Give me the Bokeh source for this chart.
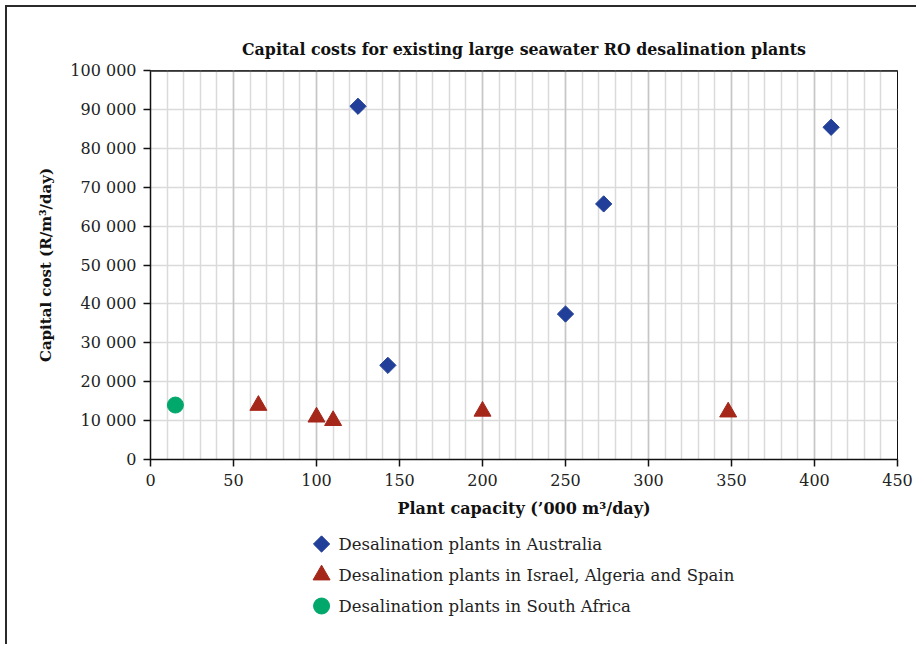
from bokeh.plotting import figure
from bokeh.layouts import column
from bokeh.models import Range1d, FactorRange, FixedTicker, Grid, Span
from bokeh.core.properties import value
from bokeh.embed import file_html
from bokeh.resources import INLINE

TITLE = "Capital costs for existing large seawater RO desalination plants"
X_LABEL = "Plant capacity (\u2019000 m\u00b3/day)"
Y_LABEL = "Capital cost (R/m\u00b3/day)"

aus_capacity = [125, 143, 250, 273, 410]
aus_cost = [90800, 24200, 37400, 65700, 85400]
ias_capacity = [65, 100, 110, 200, 348]
ias_cost = [13900, 10900, 10000, 12400, 12200]
sa_capacity = [15]
sa_cost = [14000]

series_names = [
    "Desalination plants in Australia",
    "Desalination plants in Israel, Algeria and Spain",
    "Desalination plants in South Africa",
]
series_colors = ["#213f99", "#a5271a", "#00a86b"]
series_markers = ["square", "triangle", "circle"]
series_angles = [0.785398, 0.0, 0.0]
series_sizes = [11.5, 17, 16]

x_ticks = [0, 50, 100, 150, 200, 250, 300, 350, 400, 450]
x_minor_step = 10
y_ticks = [0, 10000, 20000, 30000, 40000, 50000, 60000, 70000, 80000, 90000, 100000]
y_tick_labels = ["0", "10 000", "20 000", "30 000", "40 000", "50 000",
                 "60 000", "70 000", "80 000", "90 000", "100 000"]

FONT = "DejaVu Serif"
OFF = 7          # outer frame offset (margin + border)
W = 916 - OFF

p = figure(width=W, height=528 - OFF, output_backend="svg", toolbar_location=None,
           x_range=Range1d(x_ticks[0], x_ticks[-1]), y_range=Range1d(y_ticks[0], y_ticks[-1]),
           min_border_left=150 - OFF, min_border_right=19, min_border_top=70 - OFF,
           min_border_bottom=69)

p.title.text = TITLE
p.title.text_font = FONT
p.title.text_font_size = "15.8px"
p.title.text_font_style = "bold"
p.title.align = "center"
p.title.standoff = 23
p.title.text_color = "#111111"

p.outline_line_color = "#111111"
p.outline_line_width = 1

# grids
p.xgrid.ticker = FixedTicker(ticks=list(range(x_ticks[0], x_ticks[-1] + 1, x_minor_step)))
p.xgrid.grid_line_color = "#dadada"
p.xgrid.grid_line_width = 1.5
major_grid = Grid(dimension=0, ticker=FixedTicker(ticks=x_ticks),
                  grid_line_color="#c6c6c6", grid_line_width=1.5)
p.add_layout(major_grid)
p.ygrid.ticker = FixedTicker(ticks=y_ticks)
p.ygrid.grid_line_color = "#dadada"
p.ygrid.grid_line_width = 1.5

top_line = Span(location=y_ticks[-1], dimension="width", line_color="#555555", line_width=3)
p.add_layout(top_line)

# axes
for ax in (p.xaxis[0], p.yaxis[0]):
    ax.axis_line_color = "#111111"
    ax.axis_line_width = 1.5
    ax.major_tick_line_color = "#111111"
    ax.major_tick_line_width = 1.5
    ax.major_tick_in = 0
    ax.major_tick_out = 7
    ax.minor_tick_line_color = None
    ax.major_label_text_font = FONT
    ax.major_label_text_font_size = "16px"
    ax.major_label_text_color = "#222222"
    ax.axis_label_text_font = FONT
    ax.axis_label_text_font_style = "bold"
    ax.axis_label_text_color = "#111111"

p.xaxis.ticker = FixedTicker(ticks=x_ticks)
p.xaxis.axis_label = X_LABEL
p.xaxis.axis_label_text_font_size = "16px"
p.xaxis.major_label_standoff = 7
p.xaxis.axis_label_standoff = 10
p.yaxis.ticker = FixedTicker(ticks=y_ticks)
p.yaxis.major_label_overrides = {t: l for t, l in zip(y_ticks, y_tick_labels)}
p.yaxis.axis_label = Y_LABEL
p.yaxis.axis_label_text_font_size = "15px"
p.yaxis.major_label_standoff = 7
p.yaxis.axis_label_standoff = 12

data_x = [aus_capacity, ias_capacity, sa_capacity]
data_y = [aus_cost, ias_cost, sa_cost]
for xs, ys, m, a, s, c in zip(data_x, data_y, series_markers, series_angles, series_sizes, series_colors):
    p.scatter(xs, ys, marker=m, angle=a, size=s, fill_color=c, line_color=c)

# legend panel below the chart
LEGEND_X = 0.229  # fraction of the plot width where the legend column sits
lf = figure(width=W, height=116, output_backend="svg", toolbar_location=None,
            x_range=Range1d(0, 1), y_range=FactorRange(factors=list(reversed(series_names))),
            x_axis_location=None, y_axis_location=None,
            min_border_left=150 - OFF, min_border_right=19, min_border_top=0, min_border_bottom=23)
lf.grid.visible = False
lf.outline_line_color = None
for name, m, a, s, c in zip(series_names, series_markers, series_angles, series_sizes, series_colors):
    lf.scatter([LEGEND_X], [name], marker=m, angle=a, size=s, fill_color=c, line_color=c)
lf.text([LEGEND_X] * len(series_names), series_names, text=series_names,
        x_offset=17, text_align="left", text_baseline="middle",
        text_font=value(FONT), text_font_size="16.5px", text_color="#222222")

layout = column(p, lf, spacing=0, margin=(5, 0, 0, 5),
                styles={"border-top": "2px solid #2a2a2a", "border-left": "2px solid #2a2a2a"})
open("out.html", "w").write(file_html(layout, INLINE))
